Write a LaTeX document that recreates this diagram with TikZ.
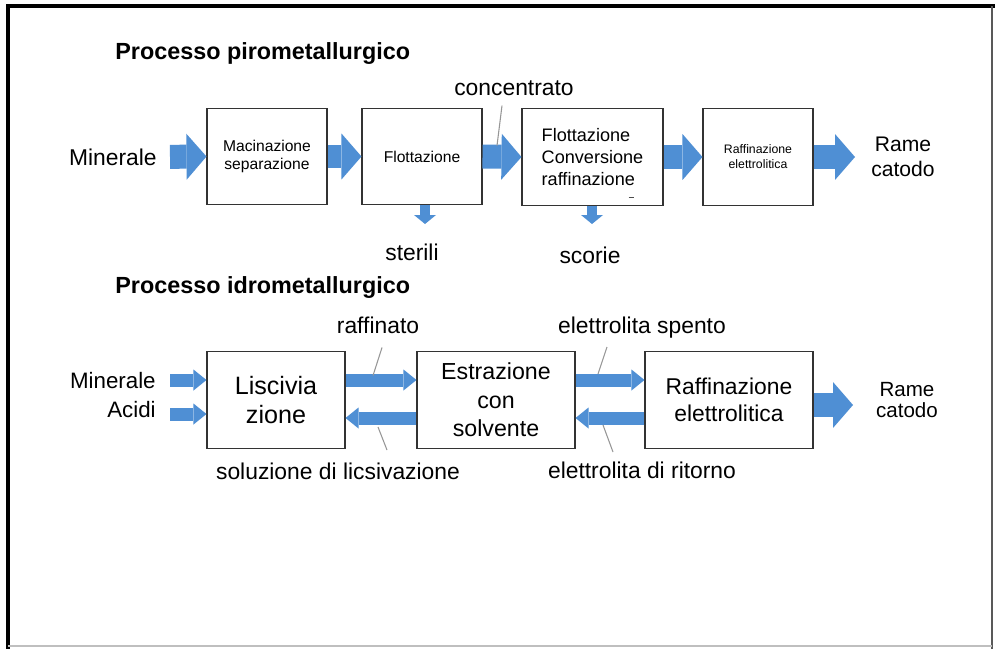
\documentclass[tikz,border=0pt]{standalone}
\usepackage{fontspec}
\setmainfont{Liberation Sans}
\usetikzlibrary{arrows.meta,calc}
\definecolor{flowblue}{RGB}{79,143,212}
\definecolor{leadgray}{RGB}{150,150,150}

\begin{document}
\begin{tikzpicture}[x=0.02cm,y=-0.02cm,
    box/.style={draw=black!80,line width=0.6pt,fill=white,inner sep=0pt,align=center,minimum height=1.93cm},
    lab/.style={inner sep=0pt,font=\fontsize{13}{15}\selectfont},
    head/.style={anchor=base west,inner sep=0pt,font=\bfseries\fontsize{13.3}{15}\selectfont},
    bigarrow/.style={flowblue,line width=0.48cm,-{Triangle[length=0.4cm,width=0.92cm,line width=0pt]}},
    thinarrow/.style={flowblue,line width=0.26cm,-{Triangle[length=0.26cm,width=0.42cm,line width=0pt]}},
    downarrow/.style={flowblue,line width=0.2cm,-{Triangle[length=0.18cm,width=0.44cm,line width=0pt]}},
    leader/.style={leadgray,line width=0.6pt}]
        \useasboundingbox (0,0) rectangle (995,649);
        \fill[white] (0,0) rectangle (995,649);
        % frame
        \draw[line width=0.08cm] (8,649) -- (8,6) -- (995,6);
        \draw[black!65,line width=0.04cm] (992,6) -- (992,649);
        \draw[black!25,line width=0.6pt] (8,646) -- (992,646);

        \node[head] (titpiro) at (115,59) {Processo pirometallurgico};
        \node[head] (titidro) at (115,293) {Processo idrometallurgico};

        % processo pirometallurgico
        \node[box,minimum width=2.4cm,font=\fontsize{8.9}{10}\selectfont] (macin) at (267,156.5) {Macinazione\\separazione};
        \node[box,minimum width=2.4cm,font=\fontsize{8.9}{10}\selectfont] (flott) at (422,156.5) {Flottazione};
        \node[box,minimum width=2.82cm,align=left,font=\fontsize{10.3}{12.5}\selectfont] (conv) at (592.5,157) {Flottazione\\Conversione\\raffinazione};
        \node[box,minimum width=2.2cm,font=\fontsize{7}{8.5}\selectfont] (raffel) at (758,157) {Raffinazione\\elettrolitica};

        \node[lab,anchor=base east] (miner) at (157,165) {Minerale};
        \node[lab,anchor=base] (conc) at (514,95) {concentrato};
        \node[lab,anchor=base] (ster) at (412,260) {sterili};
        \node[lab,anchor=base] (scor) at (590,263) {scorie};
        \node[lab,align=center,font=\fontsize{12}{14}\selectfont] (rame) at (903,157) {Rame\\catodo};

        \draw[bigarrow] ($(miner.east)+(13,0)$) -- (macin.west);
        \draw[bigarrow] (macin.east) -- (flott.west);
        \draw[bigarrow] (flott.east) -- (conv.west);
        \draw[bigarrow] (conv.east) -- (raffel.west);
        \coordinate (rametip) at (855,157);
        \draw[bigarrow] (raffel.east) -- (rametip);

        \coordinate (stertip) at (425,224);
        \draw[downarrow] (flott.south -| stertip) -- (stertip);
        \coordinate (scortip) at (592,224);
        \draw[downarrow] (conv.south -| scortip) -- (scortip);

        \draw[leader] ($(conc.south)+(-12,10)$) -- ++(-5,40);
        \draw[black!70,line width=0.6pt] ($(conv.south east)+(-35,-8)$) -- ++(5,0);

        % processo idrometallurgico
        \node[box,minimum width=2.76cm,font=\fontsize{14.3}{16.5}\selectfont] (lisc) at (276,400) {Liscivia\\zione};
        \node[box,minimum width=3.16cm,font=\fontsize{13.2}{16.2}\selectfont] (estr) at (496,400) {Estrazione\\con\\solvente};
        \node[box,minimum width=3.36cm,font=\fontsize{13}{15}\selectfont] (raffel2) at (729,400) {Raffinazione\\elettrolitica};

        \node[lab,anchor=base east,font=\fontsize{12.7}{15}\selectfont] (miner2) at (156,388) {Minerale};
        \node[lab,anchor=base east,font=\fontsize{12.7}{15}\selectfont] (acidi) at (156,417) {Acidi};
        \node[lab,align=center,font=\fontsize{11.7}{12.4}\selectfont] (rame2) at (907,400) {Rame\\catodo};

        \node[lab,anchor=base] (raffin) at (378,333) {raffinato};
        \node[lab,anchor=base] (spento) at (642,333) {elettrolita spento};
        \node[lab,anchor=base] (soluz) at (338,479) {soluzione di licsivazione};
        \node[lab,anchor=base] (ritorno) at (642,478) {elettrolita di ritorno};

        \draw[thinarrow] ($(miner2.east)+(14,0)$) -- (lisc.west |- miner2.east);
        \draw[thinarrow] ($(acidi.east)+(14,5)$) -- ($(lisc.west |- acidi.east)+(0,5)$);
        \draw[thinarrow] ($(lisc.east)+(0,-20)$) -- ($(estr.west)+(0,-20)$);
        \draw[thinarrow] ($(estr.west)+(0,18)$) -- ($(lisc.east)+(0,18)$);
        \draw[thinarrow] ($(estr.east)+(0,-20)$) -- ($(raffel2.west)+(0,-20)$);
        \draw[thinarrow] ($(raffel2.west)+(0,18)$) -- ($(estr.east)+(0,18)$);
        \coordinate (rametip2) at (853,405);
        \draw[bigarrow] (raffel2.east |- rametip2) -- (rametip2);

        \draw[leader] ($(raffin.south)+(4,14)$) -- ++(-9,28);
        \draw[leader] ($(spento.base)+(-35,14)$) -- ++(-9,27);
        \draw[leader] ($(soluz.base)+(49,-29)$) -- ++(-9,-23);
        \draw[leader] ($(ritorno.base)+(-29,-26)$) -- ++(-10,-27);
\end{tikzpicture}
\end{document}
